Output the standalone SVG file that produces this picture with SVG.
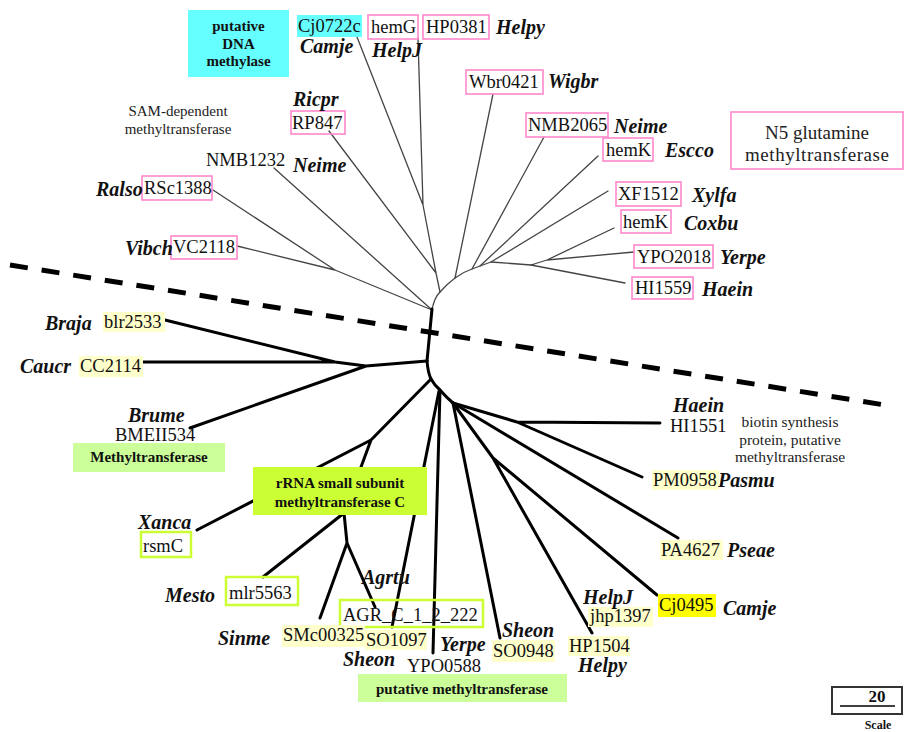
<svg xmlns="http://www.w3.org/2000/svg" width="904" height="732" viewBox="0 0 904 732">
<style>
.thin{fill:none;stroke:#444;stroke-width:1.3;stroke-linecap:round;stroke-linejoin:round}
.thick{fill:none;stroke:#000;stroke-width:3;stroke-linecap:round;stroke-linejoin:round}
.dash{fill:none;stroke:#000;stroke-width:5;stroke-dasharray:18 14}
.pink{fill:none;stroke:#ff88cc;stroke-width:1.6}
.lime{fill:none;stroke:#ccff33;stroke-width:2.5}
.ybg{fill:#ffffcc}
.g{font-family:"Liberation Serif","Times New Roman",serif;font-size:18.5px;fill:#111}
.sp{font-family:"Liberation Serif","Times New Roman",serif;font-size:20px;font-weight:bold;font-style:italic;fill:#111}
.sm{font-family:"Liberation Serif","Times New Roman",serif;font-size:15px;fill:#222;text-anchor:middle}
.bl{font-family:"Liberation Serif","Times New Roman",serif;font-size:15px;font-weight:bold;fill:#111;text-anchor:middle}
</style>
<rect width="904" height="732" fill="#fff"/>
<g id="connectors">
  <path class="thin" d="M432,310 L335,270 M335,270 L213,190 M335,270 L237,246"/>
  <path class="thin" d="M432,310 L274,168"/>
  <path class="thin" d="M432,310 Q434,298 440,292 Q447,284 455,278 Q463,272 472,269 L480,266 L491,262 L531,265"/>
  <path class="thin" d="M440,292 L436,273 L423,205 M423,205 L357,37 M423,205 L418,38 M436,273 L329,131"/>
  <path class="thin" d="M455,278 L493,94"/>
  <path class="thin" d="M472,269 L544,137"/>
  <path class="thin" d="M480,266 L598,156"/>
  <path class="thin" d="M491,262 L608,191"/>
  <path class="thin" d="M531,265 L625,283 M531,265 L547,260 L614,228 M547,260 L634,252"/>
  <path class="thick" d="M432,309 L427,361"/>
  <path class="thick" d="M427,361 L366,366 L335,362 L165,320 M335,362 L143,362 M366,366 L190,428"/>
  <path class="thick" d="M427,361 Q428,373 431,379 Q435,386 440,390 Q446,397 453,403"/>
  <path class="thick" d="M431,379 L371,440 L197,530 M371,440 L344,513 L263,577 M344,513 L347,543 L320,618 M347,543 L375,607"/>
  <path class="thick" d="M440,390 L433,653"/>
  <path class="thick" d="M439,391 L392,627"/>
  <path class="thick" d="M453,403 L517,422 L660,423 M517,422 L642,477"/>
  <path class="thick" d="M453,403 L678,538"/>
  <path class="thick" d="M453,403 L500,638"/>
  <path class="thick" d="M453,403 L493,458 L592,633 M493,458 L657,595"/>
  <line class="dash" x1="10" y1="265" x2="885" y2="405"/>
</g>

<g id="n-dna-methylase"><rect x="188" y="10" width="101" height="67" fill="#66ffff"/><text class="bl" x="238.5" y="31">putative</text><text class="bl" x="238.5" y="48.5">DNA</text><text class="bl" x="238.5" y="66">methylase</text></g>
<g id="n-Cj0722c"><rect x="297" y="15" width="65" height="22" fill="#66ffff"/><text class="g" x="298" y="32">Cj0722c</text><text class="sp" x="300" y="53">Camje</text></g>
<g id="n-hemG"><rect class="pink" x="368" y="15" width="50" height="24"/><text class="g" x="371" y="33">hemG</text><text class="sp" x="372" y="57">HelpJ</text></g>
<g id="n-HP0381"><rect class="pink" x="423" y="15" width="66" height="24"/><text class="g" x="426" y="33">HP0381</text><text class="sp" x="496" y="34">Helpy</text></g>
<g id="n-Wbr0421"><rect class="pink" x="466" y="70" width="77" height="24"/><text class="g" x="469" y="88">Wbr0421</text><text class="sp" x="548" y="88">Wigbr</text></g>
<g id="n-NMB2065"><rect class="pink" x="526" y="113" width="82" height="24"/><text class="g" x="528" y="131">NMB2065</text><text class="sp" x="614" y="133">Neime</text></g>
<g id="n-hemK-escco"><rect class="pink" x="603" y="138" width="50" height="23"/><text class="g" x="606" y="156">hemK</text><text class="sp" x="665" y="157">Escco</text></g>
<g id="n-N5"><rect class="pink" x="731" y="112" width="172" height="57"/><text class="sm" x="817" y="139" style="font-size:19px">N5 glutamine</text><text class="sm" x="817" y="161" style="font-size:19px" textLength="144">methyltransferase</text></g>
<g id="n-XF1512"><rect class="pink" x="616" y="182" width="65" height="24"/><text class="g" x="618" y="200">XF1512</text><text class="sp" x="692" y="202">Xylfa</text></g>
<g id="n-hemK-coxbu"><rect class="pink" x="621" y="210" width="50" height="23"/><text class="g" x="623" y="228">hemK</text><text class="sp" x="684" y="230">Coxbu</text></g>
<g id="n-YPO2018"><rect class="pink" x="634" y="245" width="79" height="23"/><text class="g" x="637" y="263">YPO2018</text><text class="sp" x="720" y="264">Yerpe</text></g>
<g id="n-HI1559"><rect class="pink" x="632" y="277" width="61" height="22"/><text class="g" x="635" y="294">HI1559</text><text class="sp" x="702" y="296">Haein</text></g>
<g id="n-sam"><text class="sm" x="178" y="116">SAM-dependent</text><text class="sm" x="178" y="134">methyltransferase</text></g>
<g id="n-RP847"><rect class="pink" x="291" y="111" width="54" height="23"/><text class="g" x="292" y="129">RP847</text><text class="sp" x="293" y="106">Ricpr</text></g>
<g id="n-NMB1232"><text class="g" x="206" y="166">NMB1232</text><text class="sp" x="293" y="172">Neime</text></g>
<g id="n-RSc1388"><rect class="pink" x="142" y="176" width="70" height="24"/><text class="g" x="144" y="194">RSc1388</text><text class="sp" x="96" y="196">Ralso</text></g>
<g id="n-VC2118"><rect class="pink" x="171" y="236" width="66" height="23"/><text class="g" x="173" y="253">VC2118</text><text class="sp" x="125" y="255">Vibch</text></g>

<g id="n-blr2533"><rect class="ybg" x="103" y="312" width="62" height="20"/><text class="g" x="104" y="328">blr2533</text><text class="sp" x="45" y="330">Braja</text></g>
<g id="n-CC2114"><rect class="ybg" x="79" y="356" width="64" height="21"/><text class="g" x="80" y="372">CC2114</text><text class="sp" x="20" y="373">Caucr</text></g>
<g id="n-BMEII534"><text class="sp" x="128" y="422">Brume</text><text class="g" x="115" y="441">BMEII534</text></g>
<g id="n-methyltransferase"><rect x="73" y="443" width="152" height="29" fill="#ccff99"/><text class="bl" x="149" y="462">Methyltransferase</text></g>
<g id="n-rRNA"><rect x="253" y="467" width="174" height="48" fill="#ccff33"/><text class="bl" x="340" y="488">rRNA small subunit</text><text class="bl" x="340" y="507">methyltransferase C</text></g>
<g id="n-rsmC"><rect class="lime" x="141" y="532" width="50" height="25"/><text class="g" x="143" y="552">rsmC</text><text class="sp" x="138" y="529">Xanca</text></g>
<g id="n-mlr5563"><rect class="lime" x="226" y="577" width="72" height="28"/><text class="g" x="229" y="599">mlr5563</text><text class="sp" x="165" y="602">Mesto</text></g>
<g id="n-AGR"><rect class="lime" x="340" y="600" width="143" height="27"/><text class="g" x="343" y="621">AGR_C_1_2_222</text><text class="sp" x="362" y="584">Agrtu</text></g>
<g id="n-SMc00325"><rect class="ybg" x="282" y="625" width="83" height="22"/><text class="g" x="283" y="641">SMc00325</text><text class="sp" x="218" y="645">Sinme</text></g>
<g id="n-SO1097"><rect class="ybg" x="365" y="630" width="62" height="20"/><text class="g" x="366" y="646">SO1097</text><text class="sp" x="343" y="666">Sheon</text></g>
<g id="n-YPO0588"><text class="g" x="407" y="672">YPO0588</text><text class="sp" x="440" y="651">Yerpe</text></g>
<g id="n-putative-mt"><rect x="358" y="674" width="209" height="28" fill="#ccff99"/><text class="bl" x="462" y="694">putative methyltransferase</text></g>
<g id="n-SO0948"><rect class="ybg" x="492" y="640" width="63" height="22"/><text class="g" x="493" y="657">SO0948</text><text class="sp" x="502" y="637">Sheon</text></g>
<g id="n-HI1551"><text class="sp" x="673" y="412">Haein</text><text class="g" x="670" y="432">HI1551</text></g>
<g id="n-biotin"><text class="sm" x="790" y="427" style="font-size:15.5px">biotin synthesis</text><text class="sm" x="790" y="445" style="font-size:15.5px">protein, putative</text><text class="sm" x="790" y="462" style="font-size:15.5px">methyltransferase</text></g>
<g id="n-PM0958"><rect class="ybg" x="652" y="470" width="67" height="20"/><text class="g" x="653" y="486">PM0958</text><text class="sp" x="718" y="487">Pasmu</text></g>
<g id="n-PA4627"><rect class="ybg" x="660" y="540" width="63" height="20"/><text class="g" x="661" y="556">PA4627</text><text class="sp" x="727" y="557">Pseae</text></g>
<g id="n-jhp1397"><rect class="ybg" x="588" y="607" width="65" height="20"/><text class="g" x="590" y="622">jhp1397</text><text class="sp" x="583" y="604">HelpJ</text></g>
<g id="n-Cj0495"><rect x="658" y="594" width="58" height="23" fill="#ffff00"/><text class="g" x="659" y="611">Cj0495</text><text class="sp" x="723" y="615">Camje</text></g>
<g id="n-HP1504"><rect class="ybg" x="568" y="636" width="62" height="20"/><text class="g" x="569" y="652">HP1504</text><text class="sp" x="578" y="672">Helpy</text></g>
<g id="scale"><rect x="832" y="687" width="70" height="27" fill="none" stroke="#333" stroke-width="2"/><line x1="840" y1="706" x2="895" y2="706" stroke="#000" stroke-width="1.5"/><text class="bl" x="877" y="702" style="font-size:17px">20</text><text class="bl" x="878" y="729" style="font-size:12px">Scale</text></g>
</svg>
